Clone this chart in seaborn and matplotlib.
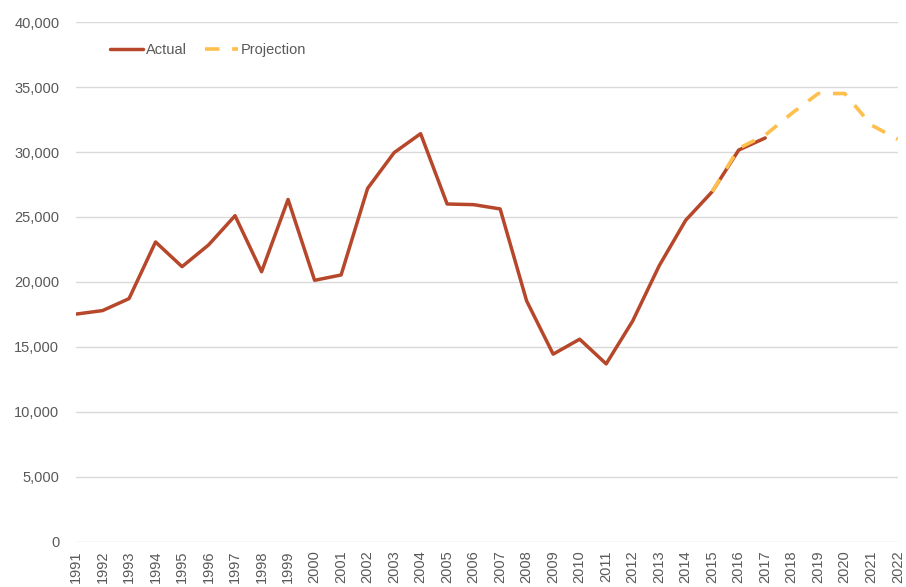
import pandas as pd
import seaborn as sns
import matplotlib.pyplot as plt
from matplotlib.ticker import FuncFormatter, MultipleLocator

# data
years_actual = list(range(1991, 2018))
actual = [17530, 17800, 18720, 23080, 21180, 22850, 25100, 20790, 26350, 20130,
          20540, 27200, 29950, 31410, 26000, 25950, 25620, 18540, 14450, 15600,
          13700, 17000, 21250, 24750, 26950, 30150, 31080]
years_proj = list(range(2015, 2023))
projection = [26950, 30280, 31300, 32970, 34500, 34500, 32080, 30980]

df_act = pd.DataFrame({'year': years_actual, 'value': actual})
df_proj = pd.DataFrame({'year': years_proj, 'value': projection})

sns.set_style('white')
plt.rcParams['font.family'] = ['Liberation Sans', 'DejaVu Sans']

fig = plt.figure(figsize=(9.06, 5.87), dpi=100)
ax = fig.add_axes([0.0839, 0.0767, 0.907, 0.8858])

sns.lineplot(data=df_act, x='year', y='value', ax=ax, color='#B7472A',
             linewidth=2.5, label='Actual')
sns.lineplot(data=df_proj, x='year', y='value', ax=ax, color='#FFBF4D',
             linewidth=2.6, linestyle=(0, (4, 3.5)), label='Projection')

ax.set_xlim(1991, 2022)
ax.set_ylim(0, 40000)
ax.set_xticks(range(1991, 2023))
ax.set_xticklabels([str(y) for y in range(1991, 2023)], rotation=90)
ax.yaxis.set_major_locator(MultipleLocator(5000))
ax.yaxis.set_major_formatter(FuncFormatter(lambda v, p: f'{int(v):,}'))
ax.tick_params(axis='both', length=0, labelsize=10.5, colors='#595959')
ax.tick_params(axis='y', pad=12)
ax.tick_params(axis='x', pad=6)
ax.set_xlabel('')
ax.set_ylabel('')
ax.grid(axis='y', color='#D9D9D9', linewidth=1)
ax.set_axisbelow(True)
for s in ax.spines.values():
    s.set_visible(False)

leg = ax.legend(loc='upper left', bbox_to_anchor=(0.025, 0.985), ncol=2,
                frameon=False, fontsize=10.5, handlelength=2.3,
                handletextpad=0.2, columnspacing=1.2)
for t in leg.get_texts():
    t.set_color('#595959')

plt.savefig('out.png', dpi=100)
